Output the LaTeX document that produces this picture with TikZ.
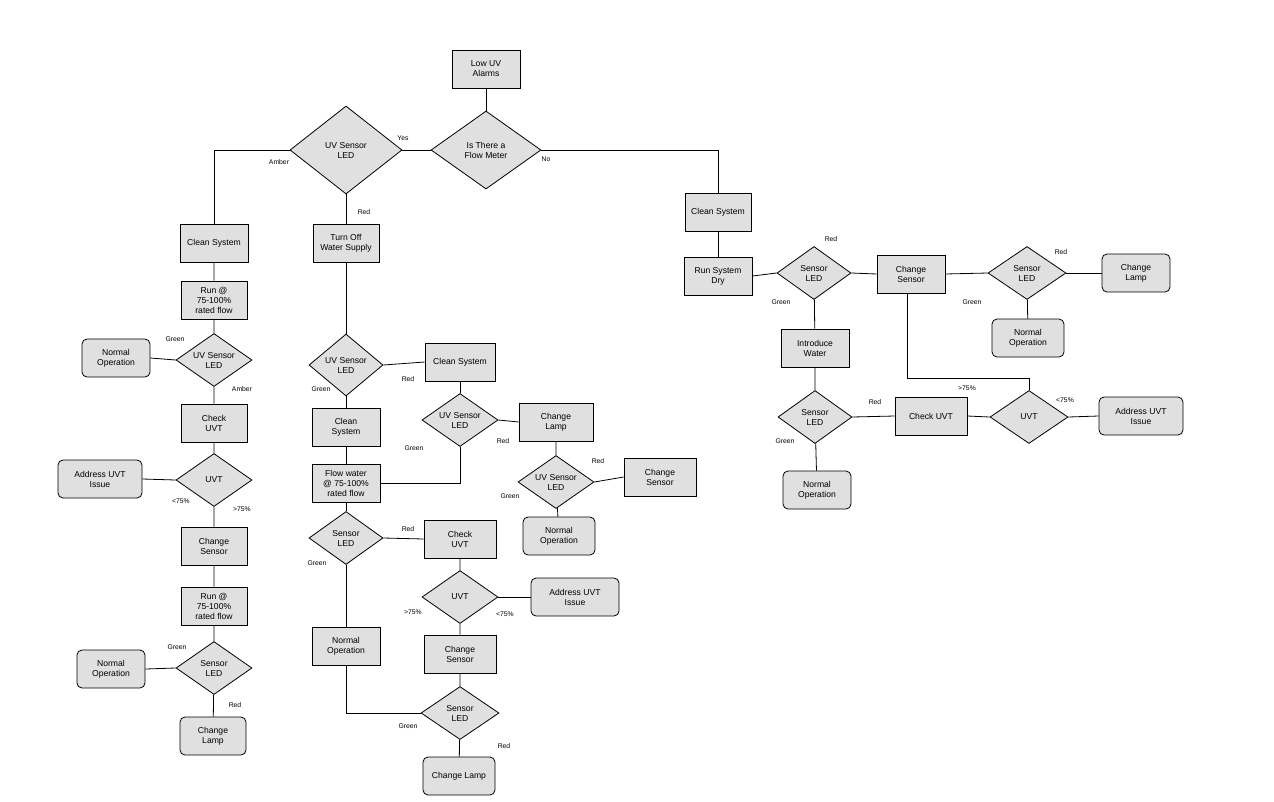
\documentclass[tikz,border=0pt]{standalone}
\usepackage{fontspec}
\setmainfont{Liberation Sans}
\usetikzlibrary{shapes.geometric}
\definecolor{boxgray}{HTML}{E0E0E0}
\begin{document}
\begin{tikzpicture}[x=1pt,y=-1pt,
  every node/.style={font=\fontsize{8.6}{10}\selectfont, align=center, inner sep=0pt},
  box/.style={draw, line width=0.8pt, fill=boxgray, minimum width=#1, minimum height=38pt},
  box/.default=68pt,
  rbox/.style={box=#1, rounded corners=5pt},
  rbox/.default=68pt,
  dia/.style={draw, line width=0.8pt, fill=boxgray, diamond, aspect=1.45, minimum width=76pt, minimum height=53pt},
  lbl/.style={font=\fontsize{6.8}{8}\selectfont},
  every path/.style={line width=0.8pt}]
\useasboundingbox (0,0) rectangle (1274,801);
% top
\node[box] (low) at (486,69) {Low UV\\Alarms};
\node[dia, minimum width=110pt, minimum height=78pt] (flow) at (486,150) {Is There a\\Flow Meter};
\node[dia, minimum width=112pt, minimum height=88pt] (uvs1) at (346,150) {UV Sensor\\LED};
% left column
\node[box] (clean1) at (214,243) {Clean System};
\node[box=66pt] (run1) at (214,300) {Run @\\75-100\%\\rated flow};
\node[dia] (uvs2) at (214,360) {UV Sensor\\LED};
\node[rbox] (norm1) at (116,358) {Normal\\Operation};
\node[box=66pt] (check1) at (214,423) {Check\\UVT};
\node[dia] (uvt1) at (214,480) {UVT};
\node[rbox=84pt] (addr1) at (100,479) {Address UVT\\Issue};
\node[box=66pt] (csen1) at (214,546) {Change\\Sensor};
\node[box=66pt] (run2) at (214,606) {Run @\\75-100\%\\rated flow};
\node[dia] (sled1) at (214,668) {Sensor\\LED};
\node[rbox] (norm2) at (111,669) {Normal\\Operation};
\node[rbox=66pt] (clamp1) at (213,736) {Change\\Lamp};
% middle column
\node[box=66pt] (turnoff) at (346,243) {Turn Off\\Water Supply};
\node[dia, minimum width=74pt, minimum height=62pt] (uvs3) at (346,365) {UV Sensor\\LED};
\node[box=70pt] (clean2r) at (460,362) {Clean System};
\node[box] (clean2) at (346,427) {Clean\\System};
\node[box] (flow2) at (346,483) {Flow water\\@ 75-100\%\\rated flow};
\node[dia] (uvs4) at (460,420) {UV Sensor\\LED};
\node[box=74pt] (clamp2) at (556,422) {Change\\Lamp};
\node[dia] (uvs5) at (556,482) {UV Sensor\\LED};
\node[box=72pt] (csen2) at (660,477) {Change\\Sensor};
\node[rbox=72pt] (norm3) at (559,536) {Normal\\Operation};
\node[dia, minimum width=74pt] (sled2) at (346,538) {Sensor\\LED};
\node[box=72pt] (check2) at (460,539) {Check\\UVT};
\node[dia] (uvt2) at (460,597) {UVT};
\node[rbox=88pt] (addr2) at (575,597) {Address UVT\\Issue};
\node[box=72pt] (csen3) at (460,654) {Change\\Sensor};
\node[box] (norm4) at (346,646) {Normal\\Operation};
\node[dia, minimum width=78pt] (sled3) at (460,713) {Sensor\\LED};
\node[rbox=72pt] (clamp3) at (459,776) {Change Lamp};
% right column
\node[box=66pt] (clean3) at (718,212) {Clean System};
\node[box] (rundry) at (718,276) {Run System\\Dry};
\node[dia, minimum width=74pt] (sled4) at (814,273) {Sensor\\LED};
\node[box] (csen4) at (911,274) {Change\\Sensor};
\node[dia, minimum width=78pt] (sled5) at (1027,273) {Sensor\\LED};
\node[rbox] (clamp4) at (1136,273) {Change\\Lamp};
\node[rbox=72pt] (norm5) at (1028,338) {Normal\\Operation};
\node[box] (intro) at (815,348) {Introduce\\Water};
\node[dia, minimum width=74pt] (sled6) at (815,417) {Sensor\\LED};
\node[rbox] (norm6) at (817,490) {Normal\\Operation};
\node[box=72pt] (check3) at (931,416) {Check UVT};
\node[dia, minimum width=78pt] (uvt3) at (1029,417) {UVT};
\node[rbox=84pt] (addr3) at (1141,416) {Address UVT\\Issue};
% connectors
\draw (low) -- (flow);
\draw (flow.west) -- (uvs1.east);
\draw (uvs1.west) -| (clean1.north);
\draw (uvs1.south) -- (turnoff.north);
\draw (flow.east) -| (clean3.north);
\draw (clean1) -- (run1) -- (uvs2) -- (check1) -- (uvt1) -- (csen1) -- (run2) -- (sled1) -- (clamp1);
\draw (uvs2.west) -- (norm1.east);
\draw (uvt1.west) -- (addr1.east);
\draw (sled1.west) -- (norm2.east);
\draw (turnoff) -- (uvs3) -- (clean2) -- (flow2) -- (sled2) -- (norm4);
\draw (uvs3.east) -- (clean2r.west);
\draw (clean2r) -- (uvs4);
\draw (uvs4.south) |- (flow2.east);
\draw (uvs4.east) -- (clamp2.west);
\draw (clamp2) -- (uvs5) -- (norm3);
\draw (uvs5.east) -- (csen2.west);
\draw (sled2.east) -- (check2.west);
\draw (check2) -- (uvt2) -- (csen3) -- (sled3) -- (clamp3);
\draw (uvt2.east) -- (addr2.west);
\draw (norm4.south) |- (sled3.west);
\draw (clean3) -- (rundry);
\draw (rundry.east) -- (sled4.west);
\draw (sled4.east) -- (csen4.west);
\draw (csen4.east) -- (sled5.west);
\draw (sled5.east) -- (clamp4.west);
\draw (sled5) -- (norm5);
\draw (sled4) -- (intro) -- (sled6) -- (norm6);
\draw (sled6.east) -- (check3.west);
\draw (check3.east) -- (uvt3.west);
\draw (uvt3.east) -- (addr3.west);
\coordinate (bend) at (907,378);
\draw (csen4.south -| bend) -- (bend) -| (uvt3.north);
% labels
\node[lbl] at (403,138) {Yes};
\node[lbl] at (546,159) {No};
\node[lbl] at (279,162) {Amber};
\node[lbl] at (364,212) {Red};
\node[lbl] at (175,339) {Green};
\node[lbl] at (242,389) {Amber};
\node[lbl] at (181,501) {<75\%};
\node[lbl] at (242,509) {>75\%};
\node[lbl] at (177,647) {Green};
\node[lbl] at (235,705) {Red};
\node[lbl] at (408,379) {Red};
\node[lbl] at (321,389) {Green};
\node[lbl] at (414,448) {Green};
\node[lbl] at (503,441) {Red};
\node[lbl] at (598,461) {Red};
\node[lbl] at (510,496) {Green};
\node[lbl] at (408,529) {Red};
\node[lbl] at (317,563) {Green};
\node[lbl] at (413,612) {>75\%};
\node[lbl] at (505,614) {<75\%};
\node[lbl] at (408,726) {Green};
\node[lbl] at (504,746) {Red};
\node[lbl] at (831,239) {Red};
\node[lbl] at (781,302) {Green};
\node[lbl] at (972,302) {Green};
\node[lbl] at (1061,252) {Red};
\node[lbl] at (967,388) {>75\%};
\node[lbl] at (1065,400) {<75\%};
\node[lbl] at (875,402) {Red};
\node[lbl] at (785,441) {Green};
\end{tikzpicture}
\end{document}
